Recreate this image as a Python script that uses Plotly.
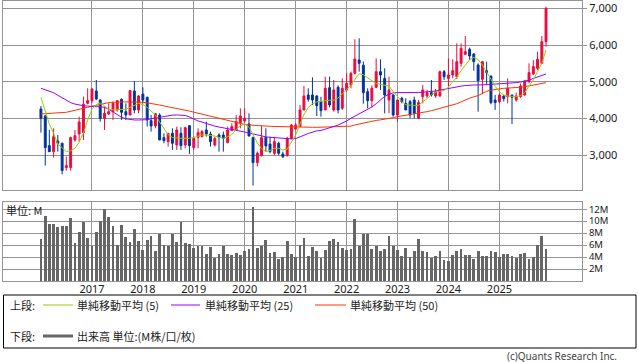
import plotly.graph_objects as go

# ---------------- data (monthly, Jan 2016 .. Dec 2025) ----------------
months = [f"{y}-{m:02d}-01" for y in range(2016, 2026) for m in range(1, 13)]

open_ = [4257, 4066, 3258, 3094, 3385, 3322, 2659, 2659, 3412, 3576, 3612, 4411,
         4484, 4747, 4502, 4003, 4120, 4184, 4230, 4520, 4184, 4093, 4747, 4230,
         4665, 4575, 3939, 3794, 4093, 3476, 3367, 3594, 3276, 3594, 3276, 3803,
         3204, 3485, 3503, 3685, 3576, 3276, 3548, 3548, 3340, 3667, 3685, 3885,
         3930, 3848, 3476, 2795, 2990, 3480, 3300, 3049, 3322, 3031, 2986, 3458,
         3712, 3776, 4230, 4638, 4638, 4611, 4457, 4230, 4838, 4230, 4847, 4275,
         4775, 4911, 5229, 5592, 5450, 4729, 4484, 4847, 5274, 5092, 4502, 4638,
         4093, 4547, 4411, 4457, 4502, 4003, 4593, 4611, 4702, 4611, 4611, 5274,
         5092, 5183, 5138, 5501, 5746, 5882, 5755, 5456, 5065, 5301, 5156, 4502,
         4457, 4611, 4593, 4638, 4502, 4593, 4638, 5001, 5210, 5365, 5501, 6091]
high = [4339, 4093, 3685, 3730, 3548, 3340, 2958, 3503, 3685, 4048, 4593, 4820,
        4820, 5047, 4520, 4320, 4411, 4457, 4502, 4547, 4411, 4774, 5020, 4638,
        4847, 4593, 4093, 4139, 4139, 3594, 3594, 3730, 3776, 3758, 3776, 3812,
        3503, 3730, 3685, 3912, 3640, 3503, 3594, 3640, 3776, 3866, 4093, 4275,
        4275, 4139, 3503, 3100, 3794, 3730, 3500, 3500, 3367, 3094, 3500, 3850,
        3870, 4366, 4884, 4820, 5120, 4640, 4590, 5138, 5138, 5047, 4900, 5092,
        5229, 5274, 6155, 6182, 5550, 4820, 4900, 5637, 5610, 5365, 5138, 4665,
        4502, 4590, 4547, 4502, 4593, 4502, 4910, 4780, 5047, 4800, 5300, 5320,
        5637, 5610, 6046, 6046, 6245, 5927, 5773, 5501, 5546, 5546, 5156, 4638,
        4684, 4638, 5092, 4640, 4702, 4950, 5047, 5501, 5592, 5819, 6245, 7044]
low = [3612, 2713, 3090, 2931, 3094, 2477, 2577, 2577, 3367, 3367, 3412, 4380,
       4411, 4502, 3912, 3685, 4093, 3957, 4184, 3957, 3957, 4093, 4139, 4139,
       4411, 3776, 3640, 3730, 3412, 3322, 3231, 3140, 3140, 3140, 3185, 3031,
       3140, 3185, 3485, 3503, 3231, 3231, 3094, 3094, 3322, 3667, 3685, 3730,
       3885, 3503, 2168, 2690, 2958, 3095, 3049, 3000, 2990, 2920, 2958, 3430,
       3690, 3776, 4230, 4457, 4366, 4066, 4048, 4230, 4300, 4184, 4139, 4230,
       4730, 4820, 5200, 5274, 4400, 4275, 4300, 4820, 4775, 4139, 4139, 4048,
       3912, 4411, 4230, 4003, 4003, 4003, 4411, 4560, 4593, 4560, 4590, 5047,
       4865, 5092, 5074, 5410, 5728, 5592, 5301, 4184, 4665, 4938, 4384, 4230,
       4411, 4457, 4411, 3848, 4457, 4560, 4620, 4956, 5183, 5320, 5480, 5955]
close = [4003, 3204, 3094, 3503, 3322, 2577, 2713, 3476, 3530, 3903, 4384, 4484,
         4802, 4529, 4003, 4139, 4184, 4411, 4484, 4166, 4093, 4756, 4230, 4611,
         4502, 3957, 3794, 4130, 3412, 3394, 3594, 3322, 3685, 3258, 3748, 3258,
         3458, 3612, 3640, 3576, 3367, 3449, 3485, 3458, 3685, 3776, 3912, 4066,
         4003, 3522, 2795, 3050, 3476, 3250, 3095, 3367, 3049, 2958, 3458, 3821,
         3821, 4230, 4611, 4520, 4502, 4348, 4212, 4820, 4366, 4775, 4230, 4820,
         4957, 5229, 5619, 5501, 4700, 4484, 4820, 5274, 5183, 4638, 4774, 4093,
         4502, 4457, 4230, 4093, 4139, 4430, 4775, 4702, 4638, 4729, 5274, 5138,
         5183, 5301, 5546, 5909, 5819, 5700, 5546, 5029, 5546, 5247, 4430, 4430,
         4638, 4539, 4820, 4575, 4611, 4884, 5020, 5247, 5410, 5610, 6091, 7000]

ma5 = [4575, 4200, 3850, 3594, 3300, 3200, 3094, 3120, 3185, 3350, 3600, 3950,
       4250, 4380, 4420, 4340, 4250, 4230, 4230, 4230, 4250, 4300, 4360, 4411,
       4380, 4300, 4200, 4100, 3900, 3720, 3560, 3480, 3460, 3458, 3458, 3458,
       3480, 3521, 3548, 3548, 3530, 3521, 3480, 3458, 3500, 3560, 3700, 3800,
       3848, 3760, 3560, 3330, 3180, 3094, 3130, 3185, 3185, 3140, 3160, 3350,
       3550, 3850, 4100, 4300, 4400, 4450, 4470, 4490, 4495, 4500, 4555, 4670,
       4780, 4920, 5050, 5215, 5190, 5095, 5025, 4955, 4925, 4911, 4877, 4735,
       4600, 4460, 4373, 4355, 4350, 4360, 4440, 4540, 4650, 4710, 4740, 4760,
       4850, 4980, 5130, 5300, 5450, 5600, 5664, 5600, 5450, 5250, 5080, 4880,
       4720, 4638, 4610, 4593, 4593, 4620, 4700, 4880, 5047, 5274, 5501, 5864]
ma25 = [4820, 4780, 4740, 4700, 4630, 4560, 4484, 4430, 4390, 4360, 4345, 4335,
        4320, 4320, 4320, 4300, 4250, 4180, 4100, 4030, 3990, 3970, 3957, 3957,
        3957, 3965, 3990, 4010, 4035, 4060, 4075, 4090, 4093, 4093, 4080, 4040,
        3976, 3930, 3900, 3860, 3820, 3790, 3765, 3745, 3730, 3700, 3680, 3660,
        3630, 3600, 3580, 3550, 3525, 3495, 3485, 3480, 3465, 3455, 3445, 3440,
        3450, 3490, 3540, 3590, 3630, 3660, 3670, 3700, 3740, 3780, 3820, 3870,
        3930, 4003, 4060, 4130, 4190, 4235, 4310, 4400, 4500, 4600, 4660, 4695,
        4702, 4708, 4710, 4710, 4705, 4705, 4712, 4720, 4729, 4745, 4770, 4795,
        4820, 4845, 4865, 4880, 4895, 4911, 4911, 4911, 4911, 4915, 4925, 4935,
        4940, 4948, 4956, 4960, 4975, 4990, 5005, 5040, 5090, 5130, 5170, 5210]
ma50 = [4121, 4125, 4130, 4139, 4150, 4160, 4166, 4190, 4220, 4245, 4275, 4302,
        4330, 4360, 4380, 4410, 4430, 4440, 4448, 4450, 4450, 4450, 4450, 4448,
        4440, 4425, 4410, 4390, 4365, 4340, 4320, 4290, 4275, 4250, 4220, 4200,
        4170, 4140, 4120, 4100, 4070, 4040, 4010, 3980, 3940, 3910, 3890, 3860,
        3835, 3820, 3810, 3800, 3794, 3790, 3785, 3780, 3776, 3770, 3762, 3760,
        3758, 3758, 3758, 3758, 3758, 3757, 3760, 3765, 3770, 3772, 3775, 3776,
        3778, 3790, 3821, 3850, 3880, 3900, 3920, 3945, 3960, 3976, 3995, 4020,
        4048, 4065, 4090, 4112, 4120, 4135, 4160, 4184, 4210, 4240, 4275, 4300,
        4330, 4360, 4400, 4450, 4510, 4550, 4590, 4620, 4680, 4740, 4770, 4790,
        4810, 4820, 4825, 4830, 4840, 4850, 4865, 4890, 4915, 4940, 4960, 4974]

volume_m = [7.05, 10.8, 9.5, 9.5, 9.0, 9.2, 9.2, 10.5, 6.3, 8.2, 9.8, 7.2,
            5.8, 8.2, 10.0, 12.0, 10.7, 9.2, 6.0, 9.3, 7.3, 6.5, 8.7, 6.7,
            5.2, 6.8, 7.5, 5.0, 7.8, 6.0, 5.8, 7.8, 6.5, 9.8, 6.3, 6.2,
            5.5, 5.8, 5.8, 4.5, 5.7, 3.8, 4.5, 5.8, 4.5, 4.3, 4.7, 4.3,
            5.0, 5.3, 12.3, 5.5, 5.8, 6.8, 4.7, 4.8, 3.7, 4.0, 6.7, 4.5,
            4.0, 6.0, 7.2, 4.2, 5.7, 5.0, 3.9, 5.2, 6.7, 7.0, 6.5, 5.5,
            5.2, 5.4, 10.4, 5.9, 7.8, 7.8, 5.3, 5.8, 5.0, 5.3, 7.5, 5.8,
            5.2, 4.1, 5.5, 4.0, 5.0, 7.0, 5.0, 4.8, 3.9, 4.2, 5.0, 3.5,
            3.3, 4.3, 5.0, 5.3, 4.3, 4.3, 3.7, 5.0, 4.2, 4.2, 5.0, 4.8,
            4.0, 4.5, 4.5, 4.2, 3.8, 4.5, 4.7, 3.7, 4.0, 6.0, 7.5, 5.3]

year_ticks = [f"{y}-01-01" for y in range(2017, 2026)]
year_labels = [str(y) for y in range(2017, 2026)]
price_ticks = [3000, 4000, 5000, 6000, 7000]
vol_ticks = [2, 4, 6, 8, 10, 12]
vol_labels = ["2M", "4M", "6M", "8M", "10M", "12M"]

RED = "#ee0a3c"
BLUE = "#003399"
GRID = "#949494"
FONT = "Noto Sans, Noto Sans CJK JP, sans-serif"
JFONT = "Noto Sans CJK JP, Noto Sans, sans-serif"
TXT = "#1a1a1a"

W, H = 638, 362
ML, MR, MT, MB = 3, 56, 1, 81
PW, PH = W - ML - MR, H - MT - MB


def px(x):
    return (x - ML) / PW


def py(y):
    return (MT + PH - y) / PH


fig = go.Figure()
fig.add_trace(go.Candlestick(
    x=months, open=open_, high=high, low=low, close=close,
    increasing=dict(line=dict(color=RED, width=1), fillcolor=RED),
    decreasing=dict(line=dict(color=BLUE, width=1), fillcolor=BLUE),
    whiskerwidth=0, xaxis="x", yaxis="y", hoverinfo="skip", showlegend=False))
for vals, col in [(ma50, "#ff3300"), (ma25, "#9900ff"), (ma5, "#99cc00")]:
    fig.add_trace(go.Scatter(x=months, y=vals, mode="lines",
                             line=dict(color=col, width=1),
                             xaxis="x", yaxis="y", showlegend=False,
                             hoverinfo="skip"))
fig.add_trace(go.Bar(x=months, y=volume_m, marker=dict(color="#666666", line=dict(width=0)),
                     width=20 * 86400000, xaxis="x2", yaxis="y2",
                     showlegend=False, hoverinfo="skip"))

xr = ["2015-04-04", "2026-08-16"]
common_x = dict(type="date", range=xr, tickvals=year_ticks, showgrid=True,
                gridcolor=GRID, gridwidth=1, showline=True, mirror=True,
                linecolor=GRID, linewidth=1, ticks="", zeroline=False,
                automargin=False, fixedrange=True)
common_y = dict(side="right", showgrid=True, gridcolor=GRID, gridwidth=1,
                showline=True, mirror=True, linecolor=GRID, linewidth=1,
                ticks="outside", ticklen=4, tickcolor=GRID, zeroline=False,
                automargin=False, ticklabeloverflow="allow", fixedrange=True)

R1, R2 = 305, 336
jf = dict(family=JFONT, size=11, color=TXT)
annotations = [
    dict(text="単位: M", x=px(5), y=py(210), xanchor="left", yanchor="middle", font=jf),
    dict(text="上段:", x=px(9), y=py(R1), xanchor="left", yanchor="middle", font=jf),
    dict(text="単純移動平均 (5)", x=px(76), y=py(R1), xanchor="left", yanchor="middle", font=jf),
    dict(text="単純移動平均 (25)", x=px(204), y=py(R1), xanchor="left", yanchor="middle", font=jf),
    dict(text="単純移動平均 (50)", x=px(349), y=py(R1), xanchor="left", yanchor="middle", font=jf),
    dict(text="下段:", x=px(9), y=py(R2), xanchor="left", yanchor="middle", font=jf),
    dict(text="出来高 単位:(M株/口/枚)", x=px(76), y=py(R2), xanchor="left",
         yanchor="middle", font=jf),
    dict(text="(c)Quants Research Inc.", x=px(618), y=py(356), xanchor="right",
         yanchor="middle", font=dict(family=FONT, size=10, color="#444")),
]
for a in annotations:
    a.update(xref="paper", yref="paper", showarrow=False, borderpad=0)

shapes = [
    dict(type="rect", x0=px(3.5), x1=px(636), y0=py(348), y1=py(295),
         line=dict(color="#000", width=1)),
    dict(type="line", x0=px(43), x1=px(73), y0=py(R1), y1=py(R1),
         line=dict(color="#99cc00", width=1)),
    dict(type="line", x0=px(171), x1=px(200), y0=py(R1), y1=py(R1),
         line=dict(color="#9900ff", width=1)),
    dict(type="line", x0=px(315), x1=px(346), y0=py(R1), y1=py(R1),
         line=dict(color="#ff3300", width=1)),
    dict(type="line", x0=px(43), x1=px(73), y0=py(R2), y1=py(R2),
         line=dict(color="#666666", width=3)),
]
for s in shapes:
    s.update(xref="paper", yref="paper")

fig.update_layout(
    template="none",
    width=W, height=H,
    margin=dict(l=ML, r=MR, t=MT, b=MB, pad=0),
    paper_bgcolor="white", plot_bgcolor="white",
    showlegend=False,
    font=dict(family=FONT, size=11, color=TXT),
    xaxis=dict(domain=[0, 1], anchor="y", showticklabels=False,
               rangeslider=dict(visible=False), **common_x),
    yaxis=dict(domain=[py(190), 1], anchor="x", range=[2049, 7199],
               tickvals=price_ticks, tickformat=",d",
               tickfont=dict(family=FONT, size=11, color=TXT), **common_y),
    xaxis2=dict(domain=[0, 1], anchor="y2", showticklabels=True,
                ticktext=year_labels, ticklabelstandoff=-2,
                tickfont=dict(family=FONT, size=11, color=TXT), **common_x),
    yaxis2=dict(domain=[0, py(202)], anchor="x2", range=[0, 13.2],
                tickvals=vol_ticks, ticktext=vol_labels,
                tickfont=dict(family=FONT, size=9.5, color=TXT), **common_y),
    bargap=0,
    annotations=annotations,
    shapes=shapes,
)

fig.write_html("out.html", config={"displayModeBar": False, "staticPlot": True},
               post_script="document.body.style.margin='0px';document.body.style.padding='0px';document.body.style.overflow='hidden';")
